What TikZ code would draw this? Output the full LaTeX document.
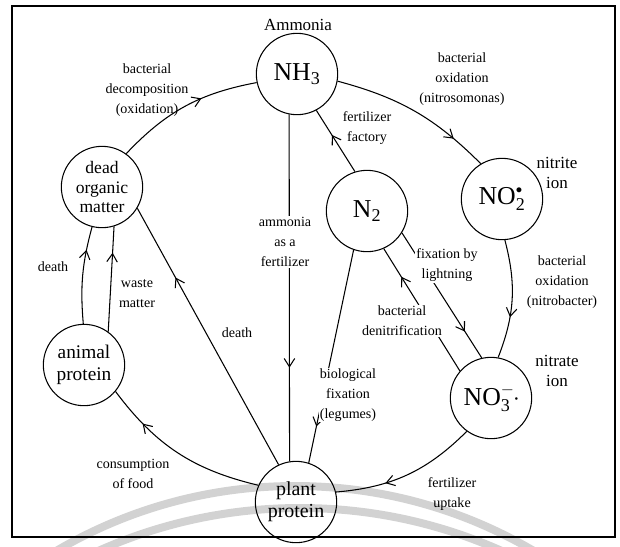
\documentclass[tikz,border=0pt]{standalone}
\usepackage{fontspec}
\setmainfont{Liberation Serif}
\setmathrm{Liberation Serif}
\usetikzlibrary{arrows.meta,decorations.markings}

\begin{document}
\begin{tikzpicture}[x=0.03cm, y=-0.03cm,
    pool/.style={circle, draw, line width=0.9pt, minimum size=2.44cm, inner sep=0pt, align=center},
    formula/.style={pool, font=\fontsize{22}{22}\selectfont},
    words/.style={pool, font=\fontsize{16.5}{19}\selectfont},
    note/.style={align=center, inner sep=1pt, font=\fontsize{12}{17}\selectfont},
    tag/.style={align=center, font=\fontsize{14.5}{17}\selectfont},
    flow/.style={line width=0.9pt, postaction={decorate},
      decoration={markings, mark=at position #1 with {\arrow{Straight Barb[length=7pt, width=9pt]}}}},
    flow/.default=0.6
]
\useasboundingbox (0,0) rectangle (620,546);

% faint arcs at the foot of the page
\begin{scope}
  \clip (0,0) rectangle (620,546);
  \draw[gray!35, line width=6.8pt] (295,957) circle[radius=471];
  \draw[gray!35, line width=6.8pt] (300,1002) circle[radius=494];
\end{scope}
\draw[line width=1.2pt] (12,6) rectangle (615,537);

% pools of nitrogen
\node[formula] (nh3) at (297,74) {NH\textsubscript{3}};
\node[tag] (ammonia) at (298,25) {Ammonia};
\node[words, font=\fontsize{15}{17}\selectfont] (dead) at (102,187) {dead\\organic\\matter};
\node[formula] (n2) at (367,211) {N\textsubscript{2}};
\node[formula] (no2) at (502,199) {$\mathrm{NO}_{\mathrm{2}}^{\scriptscriptstyle\bullet}$};
\node[words] (animal) at (84,365) {animal\\protein};
\node[formula] (no3) at (491,398) {$\mathrm{NO}_{\mathrm{3}}^{-}$\raisebox{0.25ex}{\fontsize{9}{9}\selectfont\textbullet}};
\node[words, font=\fontsize{17}{19}\selectfont] (plant) at (296,502) {plant\\protein};

% flows
\draw[flow=0.62] (dead.54) to[bend left=18] (nh3.192);
\draw[flow=0.78] (nh3.350) to[bend left=15] (no2.121);
\draw[flow=0.65] (no2.274) to[bend left=18] (no3.80);
\draw[flow=0.6] (n2.107) -- (nh3.298);
\draw[flow=0.73] (nh3.259) -- (plant.99);
\draw[flow=0.83] (n2.251) -- (plant.72);
\draw[flow=0.79] (n2.328) -- (no3.103);
\draw[flow=0.77] (no3.139) -- (n2.294);
\draw[flow=0.76] (animal.91) to[bend left=10] (dead.256);
\draw[flow=0.75] (animal.54) -- (dead.287);
\draw[flow=0.73] (plant.115) -- (dead.329);
\draw[flow=0.76] (plant.156) to[bend left=20] (animal.320);
\draw[flow=0.66] (no3.234) to[bend left=20] (plant.14);

% labels
\node[note] (lbdecomp) at (147,90) {bacterial\\decomposition\\(oxidation)};
\node[note] (lbnitroso) at (462,79) {bacterial\\oxidation\\(nitrosomonas)};
\node[note] (lbfactory) at (367,128) {fertilizer\\factory};
\node[tag] (lbnitrite) at (557,173) {nitrite\\ion};
\node[note, fill=white] (lblight) at (447,265) {fixation by\\lightning};
\node[note] (lbnitrob) at (562,282) {bacterial\\oxidation\\(nitrobacter)};
\node[note, fill=white] (lbdenit) at (402,321) {bacterial\\denitrification};
\node[tag] (lbnitrate) at (557,371) {nitrate\\ion};
\node[note, fill=white] (lblegume) at (348,395) {biological\\fixation\\(legumes)};
\node[note, fill=white] (lbammonia) at (285,242) {ammonia\\as a\\fertilizer};
\node[note] (lbdeatha) at (53,267) {death};
\node[note] (lbwaste) at (137,294) {waste\\matter};
\node[note] (lbdeathp) at (237,333) {death};
\node[note] (lbfood) at (133,474) {consumption\\of food};
\node[note] (lbuptake) at (452,494) {fertilizer\\uptake};
\end{tikzpicture}
\end{document}
